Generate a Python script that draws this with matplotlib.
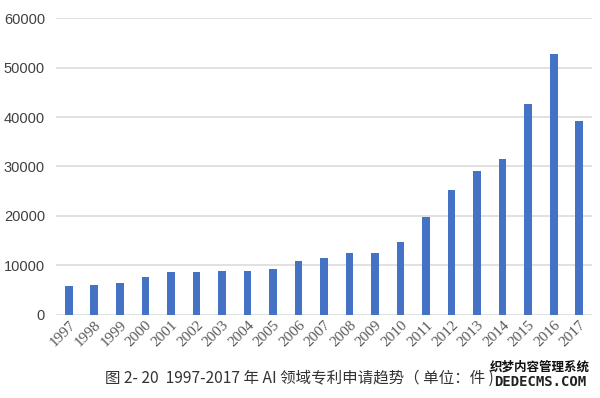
import numpy as np
import matplotlib.pyplot as plt

# ------------------------------------------------------------
# data
# ------------------------------------------------------------
years = ["1997", "1998", "1999", "2000", "2001", "2002", "2003", "2004",
         "2005", "2006", "2007", "2008", "2009", "2010", "2011", "2012",
         "2013", "2014", "2015", "2016", "2017"]
patents = [5700, 5950, 6300, 7600, 8600, 8600, 8800, 8750,
           9250, 10800, 11400, 12500, 12450, 14600, 19850, 25300,
           29050, 31600, 42600, 52800, 39100]
y_ticks = [0, 10000, 20000, 30000, 40000, 50000, 60000]

CAPTION = "图 2- 20  1997-2017 年 AI 领域专利申请趋势（ 单位：件 )"
BAR_COLOR = "#4472C4"
GRID_COLOR = "#d9d9d9"

plt.rcParams["font.family"] = ["Liberation Sans", "DejaVu Sans"]

fig = plt.figure(figsize=(6.0, 3.98), dpi=100)
ax = fig.add_axes([56 / 600, 1 - 314.5 / 398, 536 / 600, (314.5 - 18.3) / 398])

x = np.arange(len(years))
ax.bar(x, patents, width=0.3, color=BAR_COLOR, zorder=3)

ax.set_xlim(-0.5, len(years) - 0.5)
ax.set_ylim(0, 60000)
ax.set_yticks(y_ticks)
ax.set_yticklabels([str(v) for v in y_ticks], fontsize=10.5, color="#404040")
ax.set_xticks(x)
ax.set_xticklabels(years, rotation=45, ha="right", va="top", rotation_mode="anchor",
                   fontsize=11, color="#595959", family="Liberation Serif")

ax.grid(axis="y", color=GRID_COLOR, linewidth=1.1, zorder=0)
ax.tick_params(axis="both", length=0)
ax.tick_params(axis="y", pad=8)
ax.tick_params(axis="x", pad=3)
for s in ax.spines.values():
    s.set_visible(False)

# caption under the chart, left aligned where the reference starts
fig.text(105 / 600, 1 - 378 / 398, CAPTION, ha="left", va="center", fontsize=11.2,
         color="#333333", family=["Noto Sans CJK SC", "DejaVu Sans"])

# site watermark in the bottom right corner
fig.text(540 / 600, 1 - 367 / 398, "织梦内容管理系统", ha="center", va="center",
         fontsize=9, fontweight="bold", color="#111111",
         family=["Noto Sans CJK SC", "DejaVu Sans"])
fig.text(540 / 600, 1 - 382 / 398, "DEDECMS.COM", ha="center", va="center",
         fontsize=10, fontweight="bold", color="#222222", family="DejaVu Sans Mono")

fig.savefig("out.png", dpi=100)
